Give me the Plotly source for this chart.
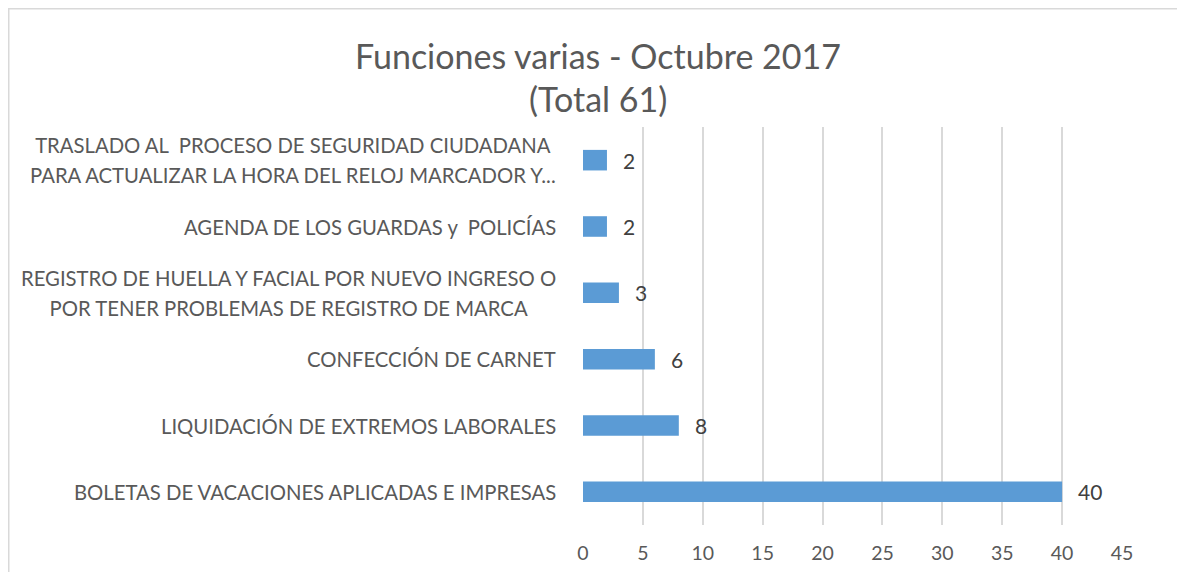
import plotly.graph_objects as go

categories = [
    "BOLETAS DE VACACIONES APLICADAS E IMPRESAS",
    "LIQUIDACIÓN DE EXTREMOS LABORALES",
    "CONFECCIÓN DE CARNET",
    "REGISTRO DE HUELLA Y FACIAL POR NUEVO INGRESO O<br>POR TENER PROBLEMAS DE REGISTRO DE MARCA",
    "AGENDA DE LOS GUARDAS y  POLICÍAS",
    "TRASLADO AL  PROCESO DE SEGURIDAD CIUDADANA<br>PARA ACTUALIZAR LA HORA DEL RELOJ MARCADOR Y...",
]
values = [40, 8, 6, 3, 2, 2]
x_ticks = [0, 5, 10, 15, 20, 25, 30, 35, 40, 45]
title_lines = ["Funciones varias - Octubre 2017", "(Total 61)"]

FONT = "Lato"
bar_color = "#5B9BD5"
text_color = "#595959"

# page body has an 8px margin, so figure origin is at (8, 8) of the window
W, H = 1177, 564
ML, MR, MT, MB = 575, 63, 119, 47
PW = W - ML - MR
PH = H - MT - MB

fig = go.Figure()
fig.add_trace(go.Bar(
    y=categories, x=values, orientation="h",
    marker=dict(color=bar_color, line=dict(width=0)),
    width=0.31,
    hoverinfo="skip",
))

annotations = []
for c, v in zip(categories, values):
    annotations.append(dict(
        x=v, y=c, xref="x", yref="y", text=str(v), showarrow=False,
        xanchor="left", xshift=14, font=dict(family=FONT, size=21, color="#404040"),
    ))
    annotations.append(dict(
        x=0, y=c, xref="paper", yref="y",
        text="<span style='font-size:20.3px'>" + c + "</span>",
        showarrow=False,
        xanchor="right", xshift=-25, align="center",
        font=dict(family=FONT, size=23, color=text_color),
    ))

# title lines
for line, ypix in zip(title_lines, [55, 99]):
    annotations.append(dict(
        x=(598 - 8 - ML) / PW, y=(MT + PH - (ypix - 8)) / PH,
        xref="paper", yref="paper", text=line, showarrow=False,
        xanchor="center", yanchor="middle",
        font=dict(family=FONT, size=34, color=text_color),
    ))

fig.update_layout(
    width=W, height=H,
    margin=dict(l=ML, r=MR, t=MT, b=MB, autoexpand=False),
    paper_bgcolor="white", plot_bgcolor="white",
    showlegend=False,
    xaxis=dict(
        range=[0, 45], tickvals=x_ticks, showgrid=True, gridcolor="#D9D9D9",
        gridwidth=1.5, zeroline=False, showline=False, automargin=False,
        ticklabelstandoff=14,
        tickfont=dict(family=FONT, size=19.5, color=text_color),
        fixedrange=True,
    ),
    yaxis=dict(
        showticklabels=False, showgrid=False, zeroline=False, showline=False,
        categoryorder="array", categoryarray=categories, automargin=False,
        range=[-0.5, 5.5], fixedrange=True,
    ),
    annotations=annotations,
    shapes=[dict(
        type="rect", xref="paper", yref="paper",
        x0=(0.75 - ML) / PW, x1=(W + 20 - ML) / PW,
        y0=-(MB + 20) / PH, y1=(PH + MT - 0.75) / PH,
        line=dict(color="#D9D9D9", width=1.5), fillcolor="rgba(0,0,0,0)",
        layer="above",
    )],
)

fig.write_html("out.html")
